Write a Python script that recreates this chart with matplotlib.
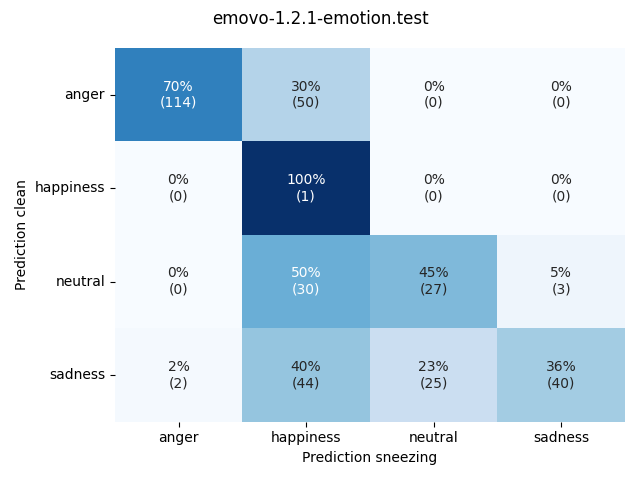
import numpy as np
import seaborn as sns
import matplotlib.pyplot as plt

labels = ["anger", "happiness", "neutral", "sadness"]
counts = np.array([
    [114, 50, 0, 0],
    [0, 1, 0, 0],
    [0, 30, 27, 3],
    [2, 44, 25, 40],
])

frac = counts / counts.sum(axis=1, keepdims=True)
annot = np.array([
    [f"{frac[i, j] * 100:.0f}%\n({counts[i, j]})" for j in range(counts.shape[1])]
    for i in range(counts.shape[0])
])

fig, ax = plt.subplots(figsize=(6.4, 4.8), dpi=100)
sns.heatmap(frac, annot=annot, fmt="", cmap="Blues", cbar=False,
            xticklabels=labels, yticklabels=labels, vmin=0, vmax=1, ax=ax)
ax.set_yticklabels(labels, rotation=0)
ax.set_xlabel("Prediction sneezing")
ax.set_ylabel("Prediction clean")
fig.suptitle("emovo-1.2.1-emotion.test")
fig.tight_layout()
fig.savefig("out.png")
